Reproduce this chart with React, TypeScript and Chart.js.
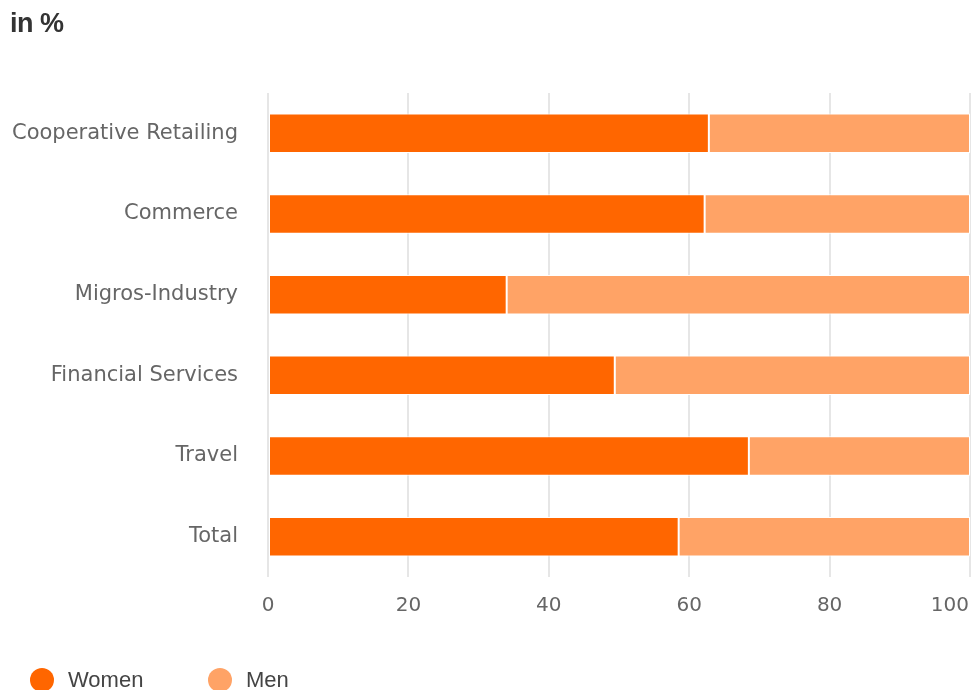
import React, { useEffect, useRef } from "react";
import { Chart, registerables } from "chart.js";

Chart.register(...registerables);

const categories = [
  "Cooperative Retailing",
  "Commerce",
  "Migros-Industry",
  "Financial Services",
  "Travel",
  "Total",
];
const women = [62.8, 62.2, 34.0, 49.4, 68.5, 58.5];
const men = women.map((w) => Math.round((100 - w) * 10) / 10);
const xTicks = [0, 20, 40, 60, 80, 100];
const seriesNames = ["Women", "Men"];
const seriesColors = ["#ff6600", "#ffa366"];
const titleText = "in %";

const W = 971;
const H = 690;

const xLabelPlugin = {
  id: "xLabels",
  afterDraw(chart: any) {
    const ctx = chart.ctx;
    const scale = chart.scales.x;
    ctx.save();
    ctx.font = "20px 'DejaVu Sans', sans-serif";
    ctx.fillStyle = "#666";
    ctx.textBaseline = "middle";
    ctx.textAlign = "left";
    xTicks.forEach((v) => {
      const label = String(v);
      const w = ctx.measureText(label).width;
      let x = scale.getPixelForValue(v) - w / 2;
      if (x + w > chart.width - 2) x = chart.width - 2 - w;
      ctx.fillText(label, x, 606);
    });
    ctx.restore();
  },
};

export default function App() {
  const ref = useRef<HTMLCanvasElement>(null);
  useEffect(() => {
    document.body.style.margin = "0";
    const chart = new Chart(ref.current as HTMLCanvasElement, {
      type: "bar",
      data: {
        labels: categories,
        datasets: [
          {
            label: seriesNames[0],
            data: women,
            backgroundColor: seriesColors[0],
            borderColor: "#ffffff",
            borderWidth: 1,
            borderSkipped: false,
            barPercentage: 0.49,
            categoryPercentage: 1,
          },
          {
            label: seriesNames[1],
            data: men,
            backgroundColor: seriesColors[1],
            borderColor: "#ffffff",
            borderWidth: 1,
            borderSkipped: false,
            barPercentage: 0.49,
            categoryPercentage: 1,
          },
        ],
      },
      options: {
        indexAxis: "y",
        responsive: false,
        animation: false,
        layout: { padding: { top: 93, right: 1, bottom: 113, left: 0 } },
        plugins: {
          legend: { display: false },
          title: { display: false },
          tooltip: { enabled: false },
        },
        scales: {
          x: {
            stacked: true,
            min: 0,
            max: 100,
            afterBuildTicks: (s: any) => {
              s.ticks = xTicks.map((v) => ({ value: v }));
            },
            afterFit: (s: any) => {
              s.height = 0;
              s.paddingLeft = 0;
              s.paddingRight = 0;
            },
            ticks: { display: false },
            grid: { color: "#e6e6e6", lineWidth: 2, drawTicks: false },
            border: { display: false },
          },
          y: {
            stacked: true,
            afterFit: (s: any) => {
              s.width = 268;
            },
            ticks: {
              color: "#666",
              padding: 30,
              font: { family: "'DejaVu Sans', sans-serif", size: 21 },
            },
            grid: { display: false, drawTicks: false },
            border: { display: false },
          },
        },
      },
      plugins: [xLabelPlugin],
    } as any);
    return () => chart.destroy();
  }, []);

  return (
    <div style={{ position: "relative", width: W, height: H, overflow: "hidden", background: "#fff" }}>
      <canvas ref={ref} width={W} height={H} style={{ position: "absolute", left: 0, top: 0 }} />
      <div
        style={{
          position: "absolute",
          left: 10,
          top: 8,
          fontFamily: "'Liberation Sans Narrow', 'Liberation Sans', Arial, sans-serif",
          fontWeight: "bold",
          fontSize: 27,
          color: "#333",
          letterSpacing: -0.5,
        }}
      >
        {titleText}
      </div>
      <div style={{ position: "absolute", left: 30, top: 667, display: "flex", alignItems: "center" }}>
        {seriesNames.map((n, i) => (
          <div key={n} style={{ display: "flex", alignItems: "center", width: i === 0 ? 178 : 120 }}>
            <span
              style={{
                display: "inline-block",
                width: 24,
                height: 24,
                borderRadius: 12,
                background: seriesColors[i],
                marginRight: 14,
              }}
            />
            <span
              style={{
                fontFamily: "'Liberation Sans', Arial, sans-serif",
                fontSize: 22,
                color: "#444",
              }}
            >
              {n}
            </span>
          </div>
        ))}
      </div>
    </div>
  );
}
